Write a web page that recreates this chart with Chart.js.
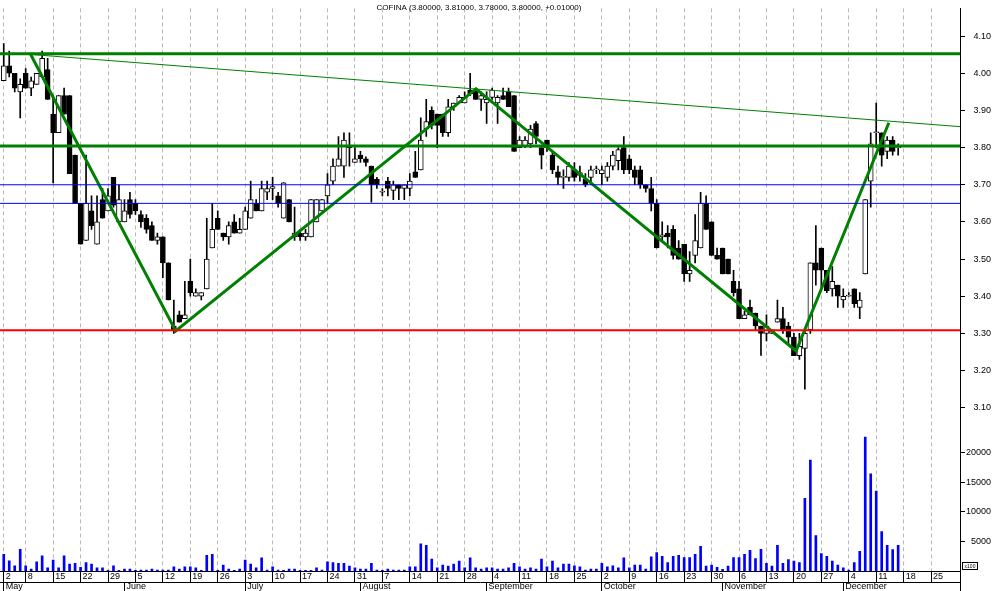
<!DOCTYPE html>
<html>
<head>
<meta charset="utf-8">
<script src="https://cdn.jsdelivr.net/npm/chart.js@4/dist/chart.umd.min.js"></script>
<style>
  html, body { margin: 0; padding: 0; background: #fff; }
</style>
</head>
<body>
<canvas id="c" width="994" height="591"></canvas>
<script>
// daily candles, index 0 = first trading day of May
const opens = [
  3.98, 4.02, 4.00, 3.95, 4.00, 3.96, 3.97, 3.99, 4.01, 3.89,
  3.84, 3.94, 3.94, 3.78, 3.65, 3.55, 3.63, 3.54, 3.66, 3.63,
  3.72, 3.60, 3.60, 3.66, 3.65, 3.62, 3.61, 3.59, 3.55, 3.56,
  3.49, 3.32, 3.35, 3.34, 3.44, 3.40, 3.40, 3.42, 3.53, 3.61,
  3.57, 3.56, 3.60, 3.57, 3.58, 3.61, 3.65, 3.63, 3.68, 3.69,
  3.67, 3.61, 3.66, 3.56, 3.57, 3.56, 3.56, 3.60, 3.63, 3.67,
  3.71, 3.75, 3.75, 3.80, 3.76, 3.78, 3.77, 3.75, 3.715, 3.68,
  3.71, 3.685, 3.70, 3.69, 3.69, 3.735, 3.74, 3.85, 3.90, 3.89,
  3.89, 3.84, 3.91, 3.92, 3.92, 3.955, 3.955, 3.93, 3.92, 3.935,
  3.92, 3.94, 3.95, 3.94, 3.80, 3.805, 3.81, 3.865, 3.80, 3.82,
  3.78, 3.735, 3.72, 3.72, 3.74, 3.725, 3.715, 3.72, 3.74, 3.73,
  3.72, 3.75, 3.765, 3.80, 3.77, 3.74, 3.74, 3.70, 3.69, 3.65,
  3.56, 3.57, 3.58, 3.53, 3.54, 3.46, 3.51, 3.53, 3.65, 3.60,
  3.51, 3.53, 3.50, 3.44, 3.42, 3.34, 3.37, 3.355, 3.32, 3.30,
  3.30, 3.33, 3.34, 3.32, 3.29, 3.24, 3.26, 3.31, 3.49, 3.53,
  3.47, 3.42, 3.43, 3.39, 3.40, 3.42, 3.37, 3.46, 3.71, 3.84,
  3.84, 3.79, 3.82, 3.80
];
const highs = [
  4.08, 4.06, 4.00, 3.985, 4.013, 3.99, 4.00, 4.06, 4.04, 3.94,
  3.94, 3.96, 3.94, 3.78, 3.65, 3.78, 3.67, 3.67, 3.69, 3.69,
  3.72, 3.70, 3.66, 3.68, 3.66, 3.63, 3.62, 3.60, 3.57, 3.56,
  3.49, 3.39, 3.36, 3.44, 3.50, 3.42, 3.41, 3.61, 3.65, 3.63,
  3.57, 3.60, 3.62, 3.61, 3.64, 3.71, 3.66, 3.71, 3.71, 3.72,
  3.68, 3.706, 3.66, 3.64, 3.58, 3.58, 3.66, 3.66, 3.66, 3.73,
  3.77, 3.83, 3.84, 3.84, 3.80, 3.79, 3.775, 3.75, 3.72, 3.69,
  3.72, 3.71, 3.70, 3.70, 3.73, 3.79, 3.88, 3.93, 3.91, 3.89,
  3.89, 3.93, 3.92, 3.94, 3.95, 4.00, 3.96, 3.95, 3.95, 3.96,
  3.94, 3.96, 3.96, 3.94, 3.83, 3.83, 3.86, 3.87, 3.80, 3.82,
  3.79, 3.75, 3.74, 3.76, 3.76, 3.75, 3.73, 3.75, 3.75, 3.75,
  3.76, 3.79, 3.80, 3.83, 3.78, 3.75, 3.75, 3.70, 3.72, 3.66,
  3.60, 3.59, 3.59, 3.55, 3.54, 3.52, 3.62, 3.68, 3.67, 3.60,
  3.53, 3.53, 3.50, 3.47, 3.44, 3.36, 3.39, 3.355, 3.32, 3.35,
  3.31, 3.39, 3.37, 3.33, 3.30, 3.30, 3.31, 3.49, 3.59, 3.53,
  3.47, 3.48, 3.43, 3.42, 3.41, 3.42, 3.41, 3.66, 3.84, 3.92,
  3.84, 3.83, 3.83, 3.81
];
const lows = [
  3.98, 3.99, 3.95, 3.88, 3.96, 3.94, 3.97, 3.99, 3.93, 3.705,
  3.84, 3.89, 3.73, 3.65, 3.54, 3.55, 3.58, 3.54, 3.61, 3.63,
  3.64, 3.60, 3.60, 3.61, 3.62, 3.585, 3.57, 3.55, 3.54, 3.45,
  3.39, 3.30, 3.33, 3.34, 3.40, 3.40, 3.39, 3.42, 3.53, 3.58,
  3.55, 3.54, 3.57, 3.57, 3.58, 3.61, 3.63, 3.63, 3.66, 3.66,
  3.64, 3.61, 3.60, 3.55, 3.55, 3.55, 3.56, 3.60, 3.63, 3.65,
  3.70, 3.75, 3.72, 3.75, 3.76, 3.76, 3.75, 3.653, 3.69, 3.67,
  3.67, 3.66, 3.66, 3.66, 3.67, 3.72, 3.74, 3.83, 3.85, 3.80,
  3.83, 3.83, 3.90, 3.92, 3.92, 3.94, 3.93, 3.90, 3.865, 3.93,
  3.865, 3.93, 3.91, 3.79, 3.80, 3.80, 3.80, 3.81, 3.743, 3.79,
  3.73, 3.70, 3.69, 3.71, 3.71, 3.71, 3.695, 3.70, 3.73, 3.70,
  3.71, 3.74, 3.74, 3.73, 3.73, 3.70, 3.69, 3.68, 3.63, 3.53,
  3.55, 3.53, 3.50, 3.50, 3.44, 3.44, 3.49, 3.53, 3.58, 3.51,
  3.50, 3.46, 3.46, 3.40, 3.34, 3.34, 3.35, 3.31, 3.241, 3.28,
  3.30, 3.33, 3.30, 3.27, 3.24, 3.23, 3.15, 3.30, 3.43, 3.42,
  3.41, 3.40, 3.37, 3.37, 3.40, 3.37, 3.34, 3.46, 3.64, 3.80,
  3.75, 3.77, 3.78, 3.78
];
const closes = [
  4.02, 4.00, 3.96, 3.97, 3.96, 3.98, 4.00, 4.04, 3.93, 3.84,
  3.94, 3.89, 3.73, 3.65, 3.54, 3.65, 3.59, 3.60, 3.61, 3.67,
  3.645, 3.66, 3.63, 3.62, 3.63, 3.60, 3.58, 3.55, 3.56, 3.49,
  3.39, 3.31, 3.33, 3.35, 3.41, 3.41, 3.41, 3.50, 3.58, 3.58,
  3.56, 3.59, 3.57, 3.58, 3.63, 3.66, 3.63, 3.69, 3.69, 3.695,
  3.65, 3.705, 3.60, 3.57, 3.56, 3.57, 3.66, 3.66, 3.66, 3.70,
  3.75, 3.77, 3.82, 3.805, 3.77, 3.77, 3.76, 3.70, 3.70, 3.68,
  3.69, 3.70, 3.69, 3.70, 3.71, 3.72, 3.82, 3.87, 3.86, 3.86,
  3.84, 3.91, 3.92, 3.935, 3.935, 3.945, 3.93, 3.94, 3.93, 3.955,
  3.935, 3.93, 3.91, 3.79, 3.82, 3.82, 3.85, 3.83, 3.78, 3.80,
  3.74, 3.72, 3.72, 3.75, 3.72, 3.733, 3.70, 3.74, 3.74, 3.74,
  3.75, 3.78, 3.795, 3.74, 3.74, 3.72, 3.70, 3.69, 3.65, 3.53,
  3.565, 3.56, 3.51, 3.50, 3.46, 3.47, 3.55, 3.65, 3.58, 3.51,
  3.50, 3.46, 3.46, 3.41, 3.34, 3.35, 3.35, 3.32, 3.30, 3.32,
  3.31, 3.34, 3.31, 3.29, 3.24, 3.265, 3.30, 3.49, 3.47, 3.47,
  3.415, 3.44, 3.40, 3.40, 3.40, 3.38, 3.39, 3.66, 3.81, 3.84,
  3.78, 3.82, 3.79, 3.80
];
// volume, in hundreds
const volumes = [
  2833, 1722, 889, 3667, 889, 333, 1556, 2556, 556, 1833,
  556, 2556, 1167, 1278, 611, 1444, 1167, 556, 556, 100,
  889, 100, 333, 333, 100, 167, 167, 333, 167, 167,
  167, 722, 333, 722, 722, 556, 100, 2667, 2833, 100,
  1000, 333, 100, 333, 1833, 1167, 556, 2222, 167, 722,
  167, 100, 333, 333, 100, 100, 100, 556, 167, 1556,
  1444, 1278, 1278, 833, 556, 333, 333, 1278, 167, 100,
  333, 167, 167, 167, 722, 722, 4611, 4333, 2000, 556,
  1000, 833, 1167, 1667, 556, 2222, 556, 333, 556, 556,
  333, 333, 556, 1278, 722, 333, 556, 333, 2000, 722,
  1667, 556, 1167, 1167, 889, 722, 167, 333, 333, 1278,
  722, 889, 556, 2222, 556, 1000, 1000, 333, 2389, 3111,
  2500, 1444, 2500, 2667, 2278, 2278, 2833, 4167, 833, 1000,
  611, 278, 833, 2278, 2278, 2833, 3500, 2111, 3667, 1278,
  833, 4333, 1278, 1944, 1667, 1444, 12278, 18778, 6000, 2944,
  2500, 1667, 1000, 556, 167, 1444, 3333, 22667, 16444, 13500,
  6667, 4333, 3611, 4333
];

// axis ticks
const weekTicks = [0, 4, 9, 14, 19, 24, 29, 34, 39, 44, 49, 54, 59, 64, 69, 74, 79, 84, 89,
  94, 99, 104, 109, 114, 119, 124, 129, 134, 139, 144, 149, 154, 159, 164, 169];
const weekLabels = ['2', '8', '15', '22', '29', '5', '12', '19', '26', '3', '10', '17', '24', '31',
  '7', '14', '21', '28', '4', '11', '18', '25', '2', '9', '16', '23', '30', '6', '13', '20', '27',
  '4', '11', '18', '25'];
const monthTicks = [0, 22, 44, 65, 88, 109, 131, 153];
const monthLabels = ['May', 'June', 'July', 'August', 'September', 'October', 'November', 'December'];
const priceTicks = [3.10, 3.15, 3.20, 3.25, 3.30, 3.35, 3.40, 3.45, 3.50, 3.55, 3.60, 3.65,
  3.70, 3.75, 3.80, 3.85, 3.90, 3.95, 4.00, 4.05, 4.10, 4.15];
const volumeTicks = [5000, 10000, 15000, 20000];

// drawn lines (day index, price)
const zigzagX = [4.91, 31.34, 86.07, 144.4, 161.3];
const zigzagP = [4.0507, 3.3068, 3.958, 3.2527, 3.867];
const slopeX = [4.91, 174.27];
const slopeP = [4.0507, 3.8564];
const levelsThickGreen = [4.0527, 3.8042];
const levelsBlue = [3.70, 3.65];
const levelRed = 3.3084;

const X_MIN = -0.683, X_MAX = 174.27;
const FONT = { family: 'Liberation Sans, Arial, sans-serif', size: 9 };

const idx = closes.map((_, i) => i);
const hline = (p) => [{ x: X_MIN, y: p }, { x: X_MAX, y: p }];
const lineDs = (data, color, width) => ({
  type: 'line', data, borderColor: color, borderWidth: width, pointRadius: 0,
  yAxisID: 'y', order: 0, tension: 0,
});

const datasets = [
  lineDs(hline(levelsThickGreen[0]), '#008000', 3),
  lineDs(hline(levelsThickGreen[1]), '#008000', 3),
  lineDs(hline(levelsBlue[0]), '#0000ff', 1),
  lineDs(hline(levelsBlue[1]), '#0000ff', 1),
  lineDs(hline(levelRed), '#ff0000', 2),
  lineDs(slopeX.map((x, k) => ({ x, y: slopeP[k] })), '#008000', 1),
  lineDs(zigzagX.map((x, k) => ({ x, y: zigzagP[k] })), '#008000', 3),
  {
    type: 'bar', yAxisID: 'y', order: 1, grouped: false, barThickness: 5, minBarLength: 1,
    data: idx.map(i => ({ x: i, y: [Math.min(opens[i], closes[i]), Math.max(opens[i], closes[i])] })),
    backgroundColor: idx.map(i => closes[i] >= opens[i] ? '#ffffff' : '#000000'),
    borderColor: '#000000', borderWidth: 1, borderSkipped: false,
  },
  {
    type: 'bar', yAxisID: 'y', order: 2, grouped: false, barThickness: 1,
    data: idx.map(i => ({ x: i, y: [lows[i], highs[i]] })),
    backgroundColor: '#000000',
  },
  {
    type: 'bar', yAxisID: 'yv', order: 3, grouped: false, barThickness: 2,
    data: idx.map(i => ({ x: i, y: volumes[i] })),
    backgroundColor: '#0000ff',
  },
];

const overlay = {
  id: 'overlay',
  afterDraw(chart) {
    const ctx = chart.ctx;
    ctx.save();
    ctx.fillStyle = '#000';
    ctx.font = '8px Liberation Sans, Arial, sans-serif';
    ctx.textAlign = 'center';
    ctx.textBaseline = 'middle';
    ctx.fillText('COFINA (3.80000, 3.81000, 3.78000, 3.80000, +0.01000)', 479, 8);
    ctx.strokeStyle = '#000';
    ctx.lineWidth = 1;
    ctx.strokeRect(962.5, 562.5, 15, 7);
    ctx.font = '5px Liberation Sans, Arial, sans-serif';
    ctx.fillText('x100', 970, 566.5);
    // right axis line runs on through the date bands
    ctx.beginPath();
    ctx.moveTo(960.5, 571);
    ctx.lineTo(960.5, 591);
    ctx.stroke();
    ctx.restore();
  }
};

new Chart(document.getElementById('c'), {
  type: 'bar',
  data: { datasets },
  plugins: [overlay],
  options: {
    responsive: false,
    animation: false,
    events: [],
    layout: { padding: { left: 0, top: 0, bottom: 0, right: 3 } },
    plugins: { legend: { display: false }, tooltip: { enabled: false } },
    scales: {
      x: {
        type: 'linear', position: 'bottom', min: X_MIN, max: X_MAX, offset: false,
        afterBuildTicks: (s) => { s.ticks = weekTicks.map(v => ({ value: v })); },
        afterFit: (s) => { s.height = 11; },
        grid: { offset: false, color: '#b8b8b8', tickColor: '#000', tickBorderDash: [0, 0], tickLength: 11 },
        border: { color: '#000', dash: [4, 3] },
        ticks: {
          autoSkip: false, maxRotation: 0, align: 'start', labelOffset: 2, padding: -11,
          color: '#000', font: FONT,
          callback: (v, i) => weekLabels[i],
        },
      },
      x2: {
        type: 'linear', position: 'bottom', min: X_MIN, max: X_MAX, offset: false,
        afterBuildTicks: (s) => { s.ticks = monthTicks.map(v => ({ value: v })); },
        afterFit: (s) => { s.height = 9; },
        grid: { offset: false, drawOnChartArea: false, tickColor: '#000', tickLength: 9 },
        border: { color: '#000' },
        ticks: {
          autoSkip: false, maxRotation: 0, align: 'start', labelOffset: 2, padding: -10,
          color: '#000', font: FONT,
          callback: (v, i) => monthLabels[i],
        },
      },
      y: {
        type: 'linear', position: 'right', stack: 'v', stackWeight: 420,
        min: 3.0611, max: 4.1746,
        afterBuildTicks: (s) => { s.ticks = priceTicks.map(v => ({ value: v })); },
        afterFit: (s) => { s.width = 31; },
        grid: { drawOnChartArea: false, tickColor: '#000', tickLength: 5 },
        border: { color: '#000' },
        ticks: { crossAlign: 'far', color: '#000', font: FONT, callback: (v) => v.toFixed(2) },
      },
      yv: {
        type: 'linear', position: 'right', stack: 'v', stackWeight: 151,
        min: 0, max: 25167,
        afterBuildTicks: (s) => { s.ticks = volumeTicks.map(v => ({ value: v })); },
        afterFit: (s) => { s.width = 31; },
        grid: { drawOnChartArea: false, tickColor: '#000', tickLength: 5 },
        border: { color: '#000' },
        ticks: { crossAlign: 'far', color: '#000', font: FONT, callback: (v) => String(v) },
      },
    },
  },
});
</script>
</body>
</html>
